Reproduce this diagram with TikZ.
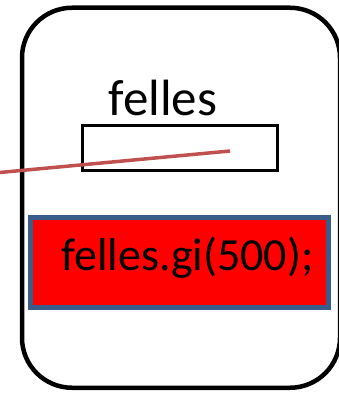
\documentclass[tikz,border=0pt]{standalone}
\usepackage{fontspec}
\setmainfont{Carlito}
\usepackage{xcolor}
\usepackage{tikz}
\usetikzlibrary{positioning,calc}
\definecolor{refred}{HTML}{C0504D}
\definecolor{callblue}{HTML}{385D8A}

\begin{document}
\begin{tikzpicture}[
					x=1pt, y=-1pt, % 1 pixel = 1pt, y nedover
					objbox/.style={
						draw=black, line width=4.5pt,
						rounded corners=50pt,
						minimum width=318pt,
						minimum height=380pt
					},
					varbox/.style={         % variabelboks
						draw=black, line width=3pt,
						minimum width=195pt,
						minimum height=45pt
					},
					varname/.style={
						font=\fontsize{51}{56}\selectfont,
						inner sep=0pt
					},
					callbox/.style={        % rød boks
						draw=callblue, fill=red, line width=4.5pt,
						minimum width=298pt,
						minimum height=90pt
					},
					calltext/.style={       % kallet i boksen
						inner sep=0pt,
						font=\fontsize{46}{52}\selectfont
					},
					refline/.style={
						refred, line width=3.5pt
					}
					]
					\useasboundingbox (0,0) rectangle (339,393);
					% --- objektet ---
					\node[objbox] (obj) at (181,197.75) {};
					% --- variabel felles ---
					\node[varbox] (var) at (180.25,148) {};
					\node[varname, anchor=base] (varlbl) at (163,115) {felles};
					% --- referanse inn i variabelen ---
					\coordinate (refstart) at (-10,173.4);
					\coordinate (refend) at (230,151);
					\draw[refline] (refstart) -- (refend);
					% --- kallet ---
					\node[callbox] (call) at (179.5,262.5) {};
					\node[calltext, anchor=base] (calltxt) at ($(call.center)+(8,7.5)$) {felles.gi(500);};
				\end{tikzpicture}
\end{document}
